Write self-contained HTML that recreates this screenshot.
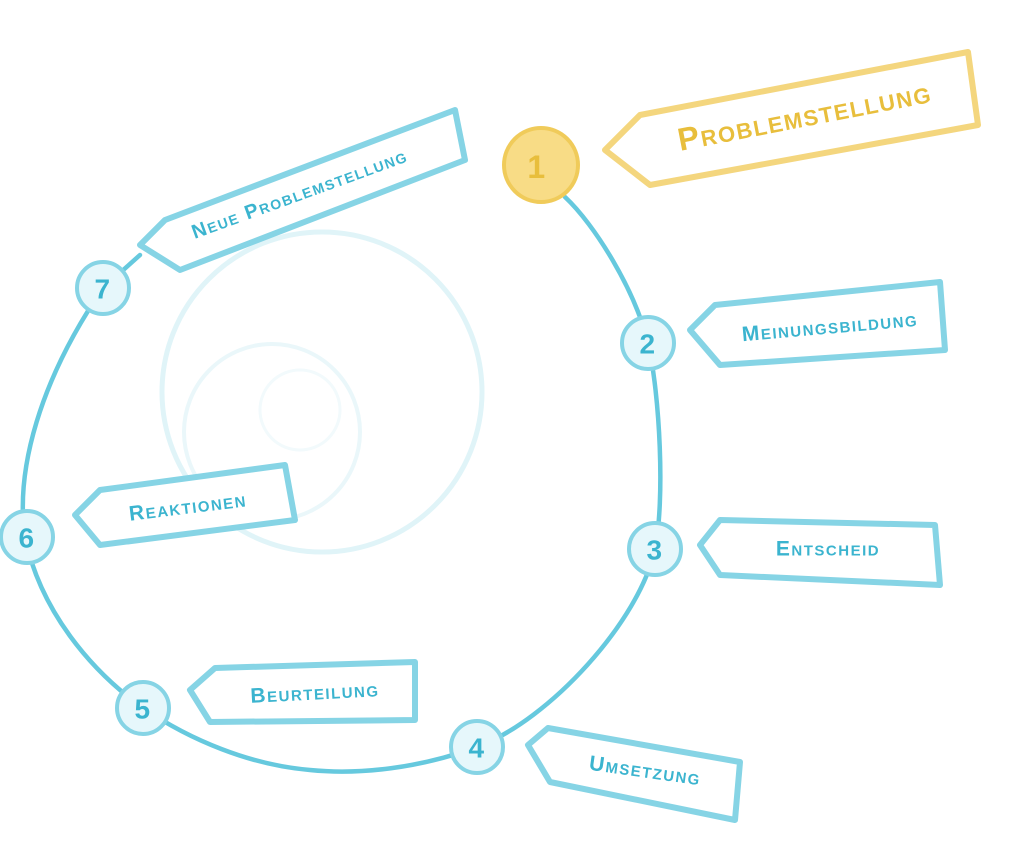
<!DOCTYPE html>
<html><head><meta charset="utf-8"><style>
html,body{margin:0;padding:0;background:#fff;width:1024px;height:849px;overflow:hidden}
svg text{font-family:"Liberation Sans",sans-serif;font-weight:bold;font-variant:small-caps;letter-spacing:1.5px}
</style></head><body>
<svg width="1024" height="849" viewBox="0 0 1024 849" xmlns="http://www.w3.org/2000/svg">
<circle cx="322" cy="392" r="160" fill="none" stroke="#e0f4f8" stroke-width="5"/>
<circle cx="272" cy="432" r="88" fill="none" stroke="#eaf7fa" stroke-width="4"/>
<circle cx="300" cy="410" r="40" fill="none" stroke="#f2fafc" stroke-width="3"/>
<path d="M565,197 C595,225 635,290 648,343 C660,395 665,500 655,549 C640,620 550,720 477,747 C420,768 360,775 310,770 C250,765 190,740 143,708 C90,670 40,610 25,537 C15,470 40,380 103,288 L140,255"
 fill="none" stroke="#66c9de" stroke-width="4.5" stroke-linecap="round"/>
<g fill="#fff" stroke-width="6" stroke-linejoin="round">
<polygon points="605,150 640,115 968,52 978,125 650,185" stroke="#f4d67e"/>
<polygon points="140,245 165,220 455,110 465,160 180,270" stroke="#86d4e5"/>
<polygon points="690,330 715,305 940,282 945,350 720,365" stroke="#86d4e5"/>
<polygon points="700,545 720,520 935,525 940,585 720,575" stroke="#86d4e5"/>
<polygon points="528,745 548,728 740,762 735,820 550,782" stroke="#86d4e5"/>
<polygon points="190,690 215,668 415,662 415,720 210,722" stroke="#86d4e5"/>
<polygon points="75,515 100,490 285,465 295,520 100,545" stroke="#86d4e5"/>
</g>
<g text-anchor="middle" dominant-baseline="middle">
<text x="805" y="118" font-size="32" fill="#e8be3c" transform="rotate(-11 805 118)">Problemstellung</text>
<text x="300" y="195" font-size="20" fill="#3bb4cf" transform="rotate(-20 300 195)">Neue Problemstellung</text>
<text x="830" y="328" font-size="21" fill="#3bb4cf" transform="rotate(-5 830 328)">Meinungsbildung</text>
<text x="828" y="550" font-size="21" fill="#3bb4cf">Entscheid</text>
<text x="645" y="772" font-size="21" fill="#3bb4cf" transform="rotate(8 645 772)">Umsetzung</text>
<text x="315" y="694" font-size="21" fill="#3bb4cf" transform="rotate(-3 315 694)">Beurteilung</text>
<text x="188" y="508" font-size="21" fill="#3bb4cf" transform="rotate(-7 188 508)">Reaktionen</text>
</g>
<g stroke-width="4">
<circle cx="541" cy="165" r="37" fill="#f8dc86" stroke="#f0cb5a"/>
<circle cx="648" cy="343" r="26" fill="#e6f7fb" stroke="#86d4e5"/>
<circle cx="655" cy="549" r="26" fill="#e6f7fb" stroke="#86d4e5"/>
<circle cx="477" cy="747" r="26" fill="#e6f7fb" stroke="#86d4e5"/>
<circle cx="143" cy="708" r="26" fill="#e6f7fb" stroke="#86d4e5"/>
<circle cx="27" cy="537" r="26" fill="#e6f7fb" stroke="#86d4e5"/>
<circle cx="103" cy="288" r="26" fill="#e6f7fb" stroke="#86d4e5"/>
</g>
<g text-anchor="middle" dominant-baseline="central" font-size="28" fill="#3bb4cf">
<text x="537" y="167" fill="#e8be3c" font-size="32">1</text>
<text x="648" y="344">2</text>
<text x="655" y="550">3</text>
<text x="477" y="748">4</text>
<text x="143" y="709">5</text>
<text x="27" y="538">6</text>
<text x="103" y="289">7</text>
</g>
</svg>
</body></html>
